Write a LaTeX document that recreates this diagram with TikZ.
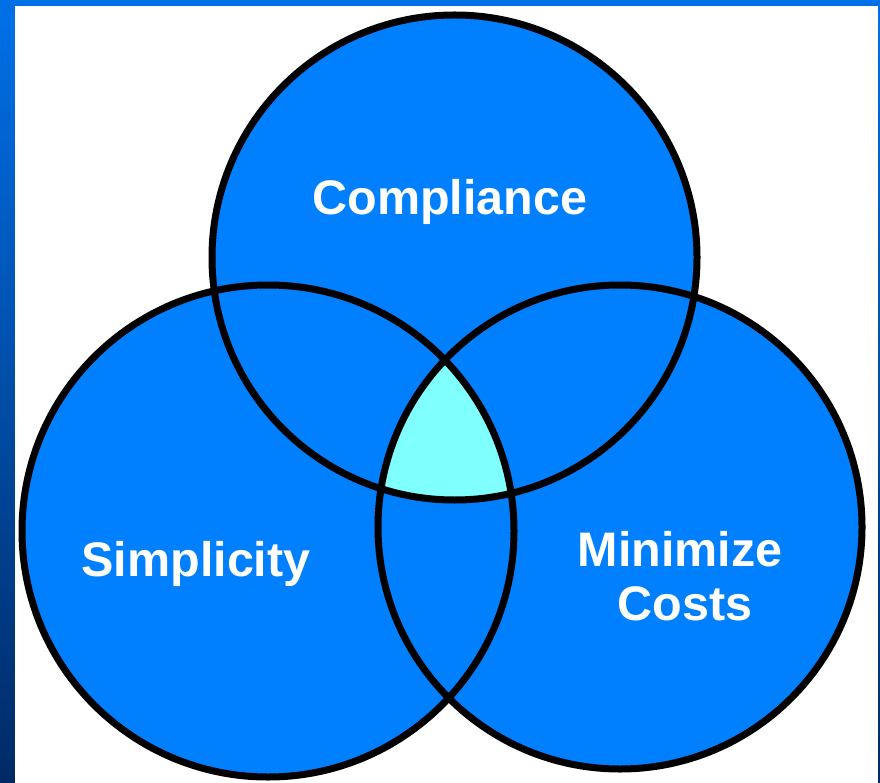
\documentclass[tikz,border=0pt]{standalone}
\usepackage{fontspec}
\setmainfont{Liberation Sans}
\definecolor{vennblue}{HTML}{0080FF}
\definecolor{venncore}{HTML}{80FFFF}
\definecolor{bgtop}{HTML}{0070E8}
\definecolor{bgbot}{HTML}{002A66}
\tikzset{
  vennfill/.style={fill=vennblue},
  vennline/.style={draw=black,line width=7pt},
  venntext/.style={text=white,font=\fontsize{48.5}{55}\selectfont\bfseries,align=center,inner sep=0pt},
}
\begin{document}
\begin{tikzpicture}[x=1pt,y=-1pt]
\useasboundingbox (0,0) rectangle (880,783);
\shade[top color=bgtop,bottom color=bgbot] (0,0) rectangle (880,783);
\fill[white] (15,6) rectangle (878,783);
\coordinate (top) at (454.5,257.5);
\coordinate (left) at (268,531);
\coordinate (right) at (620,527);
\begin{scope}
\clip (15,6) rectangle (878,783);
\fill[vennfill] (top) circle (242.5);
\fill[vennfill] (left) circle (246);
\fill[vennfill] (right) circle (242);
\begin{scope}
\clip (top) circle (242.5);
\clip (left) circle (246);
\fill[venncore] (right) circle (242);
\end{scope}
\draw[vennline] (top) circle (242.5);
\draw[vennline] (left) circle (246);
\draw[vennline] (right) circle (242);
\end{scope}
\node[venntext,anchor=base] (compliance) at (450,215) {Compliance};
\node[venntext,anchor=base] (simplicity) at (196,576) {Simplicity};
\node[venntext,anchor=base] (minimize) at (680,566) {Minimize};
\node[venntext,anchor=base] (costs) at (685,620) {Costs};
\end{tikzpicture}
\end{document}
